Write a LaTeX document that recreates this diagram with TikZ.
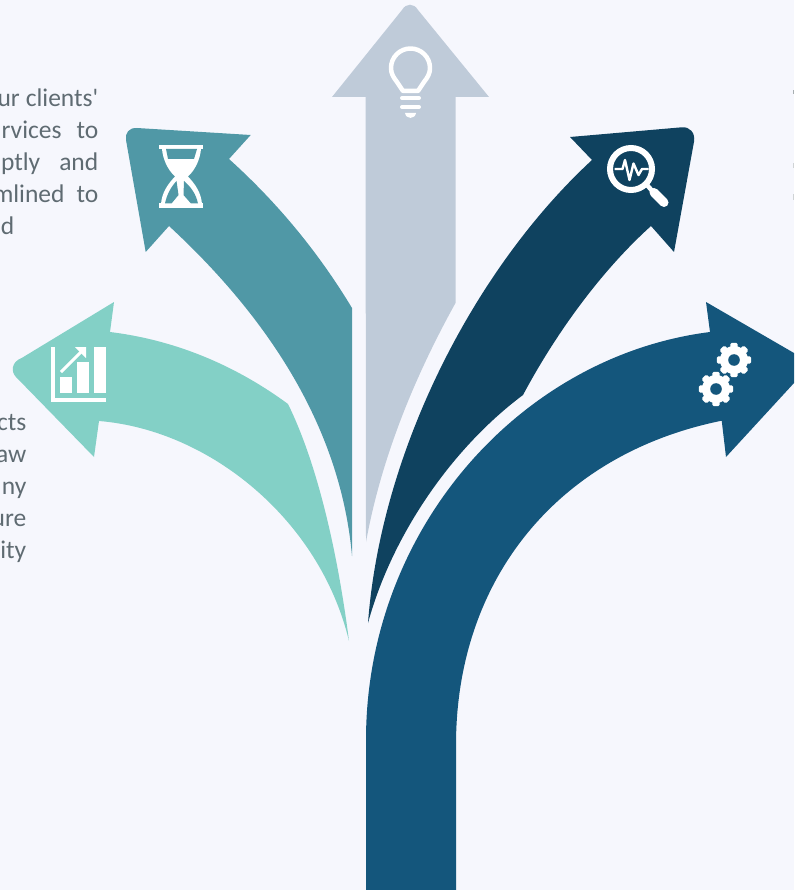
\documentclass[tikz,border=0pt]{standalone}
\usepackage{fontspec}
\setmainfont{Carlito}[Ligatures=TeXOff]
\definecolor{bgc}{HTML}{F6F7FD}
\definecolor{bluec}{HTML}{14567C}
\definecolor{darkc}{HTML}{0F425F}
\definecolor{tealc}{HTML}{5098A6}
\definecolor{mintc}{HTML}{83D0C6}
\definecolor{grayc}{HTML}{BFCBD9}
\definecolor{textc}{HTML}{5F6B72}
\tikzset{
  para/.style={anchor=base east,inner sep=0pt,text=textc,font=\fontsize{25.5}{30}\selectfont},
  iconline/.style={draw=white,line width=#1,fill=none},
  iconfill/.style={fill=white,draw=none}
}
\newcommand{\cogwheel}[3]{%
  \fill[white] (#1,#2) circle[radius=14];
  \foreach \a in {0,45,...,315}{
    \fill[white,shift={(#1,#2)},rotate=\a,rounded corners=1.5pt] (-3.6,-17.2) rectangle (3.6,-8);
  }
  \fill[#3] (#1,#2) circle[radius=5.8];
}
\begin{document}
\begin{tikzpicture}[x=1pt,y=-1pt]
\useasboundingbox (0,0) rectangle (794,890);
\fill[bgc] (0,0) rectangle (794,890);
\begin{scope}
\clip (0,0) rectangle (794,890);
% text
\node[para] (t1) at (98.5,107) {ur\hspace{6pt}clients'};
\node[para] (t2) at (98.5,139) {rvices\hspace{15pt}to};
\node[para] (t3) at (98.5,171) {ptly\hspace{19pt}and};
\node[para] (t4) at (98.5,203) {mlined\hspace{12pt}to};
\node[para] (t5) at (14.5,235) {d};
\node[para] (t6) at (26.5,430) {cts};
\node[para] (t7) at (26.5,462) {aw};
\node[para] (t8) at (26.5,494) {ny};
\node[para] (t9) at (26.5,526) {ure};
\node[para] (t10) at (26.5,558) {ity};
% cut-off text at the right edge
\fill[textc!55] (793,90) rectangle (794,94);
\fill[textc!30] (793,163) rectangle (794,168);
\fill[textc!30] (793,194) rectangle (794,200);
% main blue arrow
\fill[bluec] (366,890) -- (366,740)
  .. controls (366,530) and (520,356) .. (710,332)
  -- (706,302) -- (800,356.5)
  .. controls (808,361) and (808,368) .. (800,376.5)
  -- (726,457) -- (721.7,420.7)
  .. controls (557,454) and (456,580) .. (456,745)
  -- (456,890) -- cycle;
% dark arrow
\fill[darkc] (368,623)
  .. controls (381,450) and (475,268) .. (592,160)
  -- (570,137) -- (681.7,127.3)
  .. controls (690,126.5) and (695.5,133) .. (694,141.7)
  -- (674,252) -- (651,226)
  .. controls (600,272) and (555,335) .. (523,395)
  .. controls (452,448) and (392,535) .. (368,623) -- cycle;
% gray arrow
\fill[grayc] (366,542) -- (365.5,97) -- (332,97) -- (402,10)
  .. controls (406,3) and (414,3) .. (418,10)
  -- (489,97) -- (455.5,97) -- (455.5,303)
  .. controls (410,385) and (380,465) .. (366,542) -- cycle;
% teal arrow
\fill[tealc] (352,556)
  .. controls (340,420) and (260,310) .. (169,226)
  -- (145.7,252) -- (126,140)
  .. controls (125,133) and (129,127.5) .. (137,128)
  -- (250.7,135) -- (229,159)
  .. controls (280,205) and (320,255) .. (352,308) -- cycle;
% mint arrow
\fill[mintc] (349,641)
  .. controls (320,520) and (210,430) .. (99,421)
  -- (94,457) -- (16,377)
  .. controls (11,372) and (11,362) .. (21.7,358)
  -- (114,302) -- (110,332)
  .. controls (175,340) and (235,365) .. (288,404)
  .. controls (318,465) and (338,555) .. (349,641) -- cycle;
% hourglass icon
\fill[white] (159,145) rectangle (203,149);
\fill[white] (159,203.5) rectangle (203,208);
\fill[white] (162,149)
  .. controls (163,160) and (168,170) .. (175,176.5)
  .. controls (168,184) and (162,192) .. (161,204)
  -- (202,204)
  .. controls (201,192) and (195,184) .. (188,176.5)
  .. controls (195,170) and (200,160) .. (201,149) -- cycle;
\fill[tealc] (166,149) -- (197,149) -- (194,159) -- (168,159) -- cycle;
\fill[tealc] (176.5,181) .. controls (171,187) and (167,194) .. (165,203.5) -- (171.5,203.5) -- (178.5,195) -- cycle;
\fill[tealc] (184,181) .. controls (191,187) and (196,194) .. (198,203.5) -- (191,203.5) -- (183.5,195) -- cycle;
% chart icon
\fill[white] (51,347) rectangle (55,402);
\fill[white] (51,398) rectangle (106,402);
\fill[white] (60,377) rectangle (72,393);
\fill[white] (77,362) rectangle (89,393);
\fill[white] (94,347) rectangle (106,393);
\draw[iconline=3pt] (61,372) -- (83,350);
\fill[white] (75,347) -- (86,347) -- (86,358) -- cycle;
% bulb icon
\draw[iconline=4.5pt,line join=round] (403,91) -- (397,82)
  .. controls (393,77) and (391,73) .. (391,68)
  .. controls (391,57) and (400,48.5) .. (410.5,48.5)
  .. controls (421,48.5) and (430,57) .. (430,68)
  .. controls (430,73) and (428,77) .. (424,82)
  -- (418,91) -- cycle;
\draw[iconline=4pt,line cap=round] (402,98) -- (419,98);
\draw[iconline=4pt,line cap=round] (402,107) -- (419,107);
\fill[white] (405,113) -- (416,113) .. controls (415,119.5) and (406,119.5) .. (405,113) -- cycle;
% magnifier icon
\draw[iconline=6pt] (631,169) circle[radius=21];
\draw[iconline=2.4pt,line join=round] (614.5,169) -- (622.5,169) -- (625,160) -- (629.5,180) -- (633.5,163.5) -- (638.5,175) -- (642,169) -- (648.5,169);
\draw[iconline=4.5pt] (647,185) -- (654,193);
\draw[iconline=9pt,line cap=round] (654,192.5) -- (664,202.5);
% gears
\cogwheel{734}{360}{bluec}
\cogwheel{716}{389}{bluec}
\end{scope}
\end{tikzpicture}
\end{document}
